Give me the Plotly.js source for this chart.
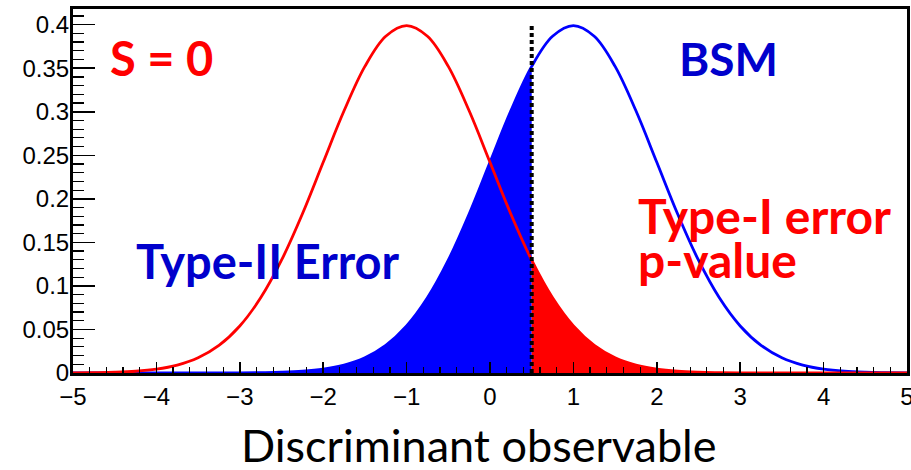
<!DOCTYPE html>
<html>
<head>
<meta charset="utf-8">
<script src="https://cdn.plot.ly/plotly-3.0.1.min.js"></script>
<style>html,body{margin:0;padding:0;background:#fff;}#chart{width:911px;height:470px;}</style>
</head>
<body>
<div id="chart"></div>
<script>
// Discriminant observable grid
const xs = [-5,-4.75,-4.5,-4.25,-4,-3.75,-3.5,-3.25,-3,-2.75,-2.5,-2.25,-2,-1.75,-1.5,-1.25,-1,-0.75,-0.5,-0.25,0,0.25,0.5,0.75,1,1.25,1.5,1.75,2,2.25,2.5,2.75,3,3.25,3.5,3.75,4,4.25,4.5,4.75,5];
// S = 0 hypothesis (red)
const nullVals = [0.0001,0.0004,0.0009,0.0020,0.0044,0.0091,0.0175,0.0317,0.0540,0.0863,0.1295,0.1826,0.2420,0.3011,0.3521,0.3867,0.3989,0.3867,0.3521,0.3011,0.2420,0.1826,0.1295,0.0863,0.0540,0.0317,0.0175,0.0091,0.0044,0.0020,0.0009,0.0004,0.0001,0,0,0,0,0,0,0,0];
// BSM hypothesis (blue)
const bsmVals = [0,0,0,0,0,0,0,0,0.0001,0.0004,0.0009,0.0020,0.0044,0.0091,0.0175,0.0317,0.0540,0.0863,0.1295,0.1826,0.2420,0.3011,0.3521,0.3867,0.3989,0.3867,0.3521,0.3011,0.2420,0.1826,0.1295,0.0863,0.0540,0.0317,0.0175,0.0091,0.0044,0.0020,0.0009,0.0004,0.0001];
const cutValue = 0.5;
const cutTop = 0.4;
const yTickVals = [0,0.05,0.1,0.15,0.2,0.25,0.3,0.35,0.4];
const yTickText = ["0","0.05","0.1","0.15","0.2","0.25","0.3","0.35","0.4"];
const xTickVals = [-5,-4,-3,-2,-1,0,1,2,3,4,5];
const xTickText = ["\u22125","\u22124","\u22123","\u22122","\u22121","0","1","2","3","4","5"];
const xTitle = "Discriminant observable";

const cutIdx = xs.indexOf(cutValue);
const RED = "#ff0000", BLUE = "#0000ff";

const traces = [
  {x: xs.slice(0, cutIdx+1), y: bsmVals.slice(0, cutIdx+1), type:"scatter", mode:"lines",
   line:{width:0, shape:"spline", color:BLUE}, fill:"tozeroy", fillcolor:BLUE, hoverinfo:"skip"},
  {x: xs.slice(cutIdx), y: nullVals.slice(cutIdx), type:"scatter", mode:"lines",
   line:{width:0, shape:"spline", color:RED}, fill:"tozeroy", fillcolor:RED, hoverinfo:"skip"},
  {x: xs, y: bsmVals, type:"scatter", mode:"lines", line:{color:BLUE, width:2.8, shape:"spline"}},
  {x: xs, y: nullVals, type:"scatter", mode:"lines", line:{color:RED, width:2.8, shape:"spline"}},
  {x: [cutValue, cutValue], y: [0, cutTop], type:"scatter", mode:"lines",
   line:{color:"#000", width:4, dash:"4px,3px"}}
];

const annFont = (c, s) => ({family:"Lato, 'DejaVu Sans', sans-serif", size:s, color:c, weight:"bold"});
const layout = {
  width:911, height:470,
  margin:{l:73, r:4, t:9, b:97},
  paper_bgcolor:"#fff", plot_bgcolor:"#fff",
  showlegend:false,
  font:{family:"'Liberation Sans', Arial, sans-serif", size:24, color:"#000"},
  xaxis:{range:[-5,5], tickvals:xTickVals, ticktext:xTickText, ticks:"inside", ticklen:11, tickwidth:1.5, tickcolor:"#000",
    minor:{dtick:0.2, ticks:"inside", ticklen:6, tickwidth:1.2, tickcolor:"#000", showgrid:false},
    showgrid:false, zeroline:false, showline:true, linecolor:"#000", linewidth:3, mirror:true,
    tickfont:{size:24}, ticklabelstandoff:0, ticklabeloverflow:"allow"},
  yaxis:{range:[0,0.418], tickvals:yTickVals, ticktext:yTickText, ticks:"inside", ticklen:22, tickwidth:1.5, tickcolor:"#000",
    minor:{dtick:0.01, ticks:"inside", ticklen:11, tickwidth:1.2, tickcolor:"#000", showgrid:false},
    showgrid:false, zeroline:false, showline:true, linecolor:"#000", linewidth:3, mirror:true,
    tickfont:{size:24}, ticklabelstandoff:-4, ticklabeloverflow:"allow"},
  annotations:[
    {x:0.486, y:-0.199, xref:"paper", yref:"paper", text:xTitle, showarrow:false, xanchor:"center", yanchor:"middle",
     font:{family:"Lato, sans-serif", size:45, color:"#000"}},
    {x:-4.58, y:0.362, xref:"x", yref:"y", text:"S = 0", showarrow:false, xanchor:"left", yanchor:"middle", font:annFont(RED,47)},
    {x:2.24, y:0.361, xref:"x", yref:"y", text:"BSM", showarrow:false, xanchor:"left", yanchor:"middle", font:annFont("#0000cc",46)},
    {x:-4.27, y:0.129, xref:"x", yref:"y", text:"Type-II Error", showarrow:false, xanchor:"left", yanchor:"middle", font:annFont("#0000cc",47)},
    {x:1.755, y:0.181, xref:"x", yref:"y", text:"Type-I error", showarrow:false, xanchor:"left", yanchor:"middle", font:annFont(RED,48)},
    {x:1.755, y:0.130, xref:"x", yref:"y", text:"p-value", showarrow:false, xanchor:"left", yanchor:"middle", font:annFont(RED,48)}
  ]
};
Plotly.newPlot("chart", traces, layout, {staticPlot:true, displayModeBar:false});
</script>
</body>
</html>
